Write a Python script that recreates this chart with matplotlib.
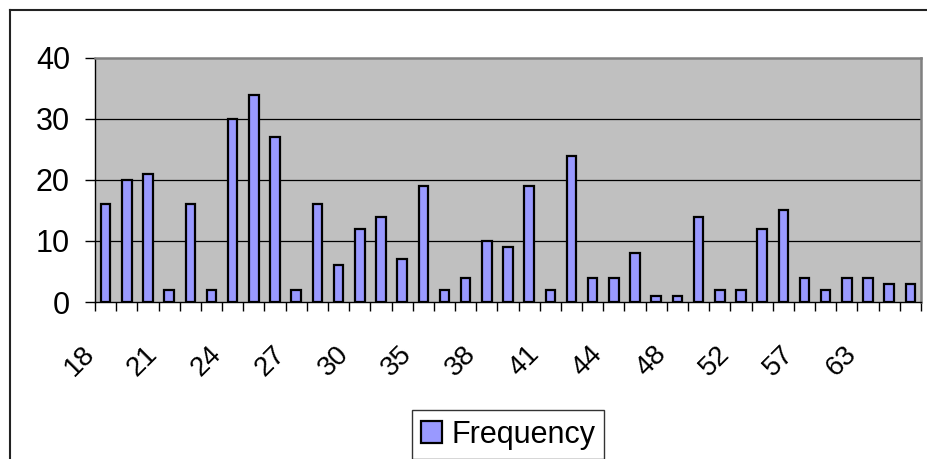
import matplotlib.pyplot as plt
import matplotlib.transforms as mtransforms
from matplotlib.lines import Line2D

plt.rcParams['font.family'] = ['Liberation Sans', 'DejaVu Sans']

# ages (only every third one is labelled on the axis)
ages = ['18', '19', '20', '21', '22', '23', '24', '25', '26', '27',
        '28', '29', '30', '31', '33', '35', '36', '37', '38', '39',
        '40', '41', '42', '43', '44', '45', '46', '48', '49', '50',
        '52', '53', '55', '57', '58', '60', '63', '64', '65']
frequency = [16, 20, 21, 2, 16, 2, 30, 34, 27, 2,
             16, 6, 12, 14, 7, 19, 2, 4, 10, 9,
             19, 2, 24, 4, 4, 8, 1, 1, 14, 2,
             2, 12, 15, 4, 2, 4, 4, 3, 3]

fig = plt.figure(figsize=(9.28, 4.59), dpi=100)
ax = fig.add_axes([95 / 928, 1 - 302 / 459, 826 / 928, 244 / 459])
ax.set_facecolor('#C0C0C0')

x = list(range(len(ages)))
ax.bar(x, frequency, width=0.45, color='#9999FF', edgecolor='black',
       linewidth=1.6, label='Frequency', zorder=3)

ax.set_xlim(-0.5, len(ages) - 0.5)
ax.set_ylim(0, 40)
ax.set_yticks([0, 10, 20, 30, 40])
for yv in [10, 20, 30]:
    ax.axhline(yv, color='black', linewidth=0.9, zorder=1)

for s in ['top', 'right']:
    ax.spines[s].set_color('#808080')
    ax.spines[s].set_linewidth(1.8)
for s in ['left', 'bottom']:
    ax.spines[s].set_color('black')
    ax.spines[s].set_linewidth(1.0)

ax.tick_params(axis='y', direction='out', length=7, width=1,
               labelsize=22, pad=11)

# labels every 3rd category, tick marks at category boundaries
ax.set_xticks(x[::3])
ax.set_xticklabels(ages[::3], rotation=45, ha='right', va='top', fontsize=20)
ax.set_xticks([i - 0.5 for i in range(len(ages) + 1)], minor=True)
ax.tick_params(axis='x', which='major', length=0, pad=28)
ax.tick_params(axis='x', which='minor', direction='out', length=6.5, width=1)
shift = mtransforms.ScaledTranslation(-6 / 100, 0, fig.dpi_scale_trans)
for lab in ax.get_xticklabels():
    lab.set_transform(lab.get_transform() + shift)

leg = fig.legend(loc='center', bbox_to_anchor=(508 / 928, 1 - 434.5 / 459),
                 fontsize=22, frameon=True, fancybox=False,
                 handlelength=0.7, handleheight=0.7, handletextpad=0.3,
                 borderpad=0.3, borderaxespad=0)
leg.get_frame().set_edgecolor('black')
leg.get_frame().set_linewidth(1.0)

# outer chart frame
fig.add_artist(Line2D([10 / 928, 10 / 928], [0, 1 - 10 / 459],
                      color='#222222', linewidth=1.5))
fig.add_artist(Line2D([10 / 928, 1], [1 - 10 / 459, 1 - 10 / 459],
                      color='#222222', linewidth=1.5))

fig.savefig('out.png', dpi=100)
